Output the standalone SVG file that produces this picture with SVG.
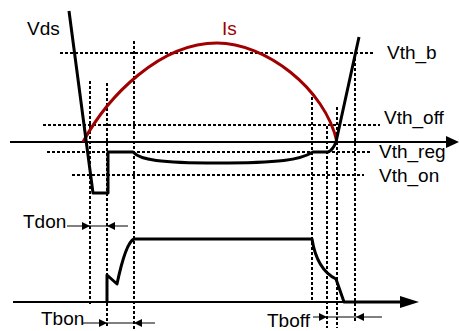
<svg xmlns="http://www.w3.org/2000/svg" width="459" height="331" viewBox="0 0 459 331">
<defs>
<style>
.t{font-family:"Liberation Sans",Arial,sans-serif;font-size:19px;fill:#000}
.red{fill:#a00000}
.dash{stroke:#000;stroke-width:2;stroke-dasharray:3 2;fill:none}
.axis{stroke:#000;stroke-width:2;fill:none}
.wave{stroke:#000;stroke-width:3;fill:none;stroke-linejoin:round}
.is{stroke:#a00000;stroke-width:3;fill:none}
.dim{stroke:#000;stroke-width:1;fill:none}
</style>
<marker id="ah" viewBox="0 0 10 10" refX="10" refY="5" markerWidth="8" markerHeight="8" markerUnits="userSpaceOnUse" orient="auto">
<path d="M0,0 L10,5 L0,10 Z" fill="#000"/>
</marker>
</defs>
<g id="gridlines">
<path class="dash" d="M60,53 H375 M43,125 H380 M47,152 H372 M72,175 H364"/>
<path class="dash" d="M90,81 V305 M107,83 V328 M134,41 V330 M312,92 V300 M327,126 V328 M337,107 V328 M355,53 V322"/>
</g>
<g id="axes">
<path class="axis" d="M10,142 H448"/>
<path d="M446,136 L459,142 L446,148 Z" fill="#000"/>
<path class="axis" d="M13,302 H402"/>
<path d="M400,296 L419,302 L400,308 Z" fill="#000"/>
</g>
<g id="is-curve">
<path class="is" d="M83,142 C108,96 160,43 217,43 C265,43 325,88 337,142"/>
<text class="t red" x="222" y="35">Is</text>
</g>
<g id="vds-curve">
<path class="wave" d="M69,11 L93,193 L108,193 L108,152 L133,152 C140,160 160,163 217,163 C280,163 300,160 313,152 L328,152 Q333,150 336,142 L359,37"/>
<text class="t" x="27" y="35">Vds</text>
</g>
<g id="gate-wave">
<path class="wave" d="M107,302 L107,275 L117,284 C121,265 127,242 134,239 L312,239 C315,258 322,272 336,279 L344,302 L400,302"/>
</g>
<g id="labels">
<text class="t" x="387" y="59">Vth_b</text>
<text class="t" x="384" y="124">Vth_off</text>
<text class="t" x="379" y="158">Vth_reg</text>
<text class="t" x="379" y="182">Vth_on</text>
</g>
<g id="connectors">
<path class="dim" d="M90,226 H107"/>
<path class="dim" d="M67,226 H90" marker-end="url(#ah)"/>
<path class="dim" d="M128,226 H107" marker-end="url(#ah)"/>
<path class="dim" d="M107,323 H134"/>
<path class="dim" d="M83,323 H107" marker-end="url(#ah)"/>
<path class="dim" d="M155,323 H134" marker-end="url(#ah)"/>
<path class="dim" d="M327,317 H356"/>
<path class="dim" d="M313,317 H327" marker-end="url(#ah)"/>
<path class="dim" d="M382,317 H356" marker-end="url(#ah)"/>
</g>
<g id="time-labels">
<text class="t" x="23" y="228">Tdon</text>
<text class="t" x="41" y="325">Tbon</text>
<text class="t" x="267" y="327">Tboff</text>
</g>
</svg>
